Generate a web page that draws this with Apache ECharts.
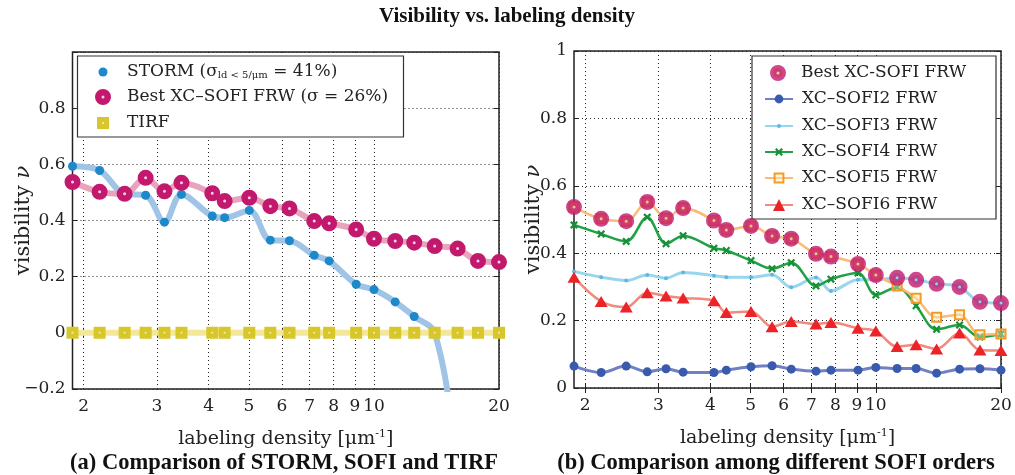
<!DOCTYPE html>
<html><head><meta charset="utf-8">
<script src="https://cdn.jsdelivr.net/npm/echarts@6/dist/echarts.min.js"></script>
<style>html,body{margin:0;padding:0;background:#fff}#c{width:1015px;height:475px}</style>
</head><body><div id="c"></div>
<script>
// ---- data ----
const density = [1.88, 2.185, 2.51, 2.82, 3.13, 3.44, 4.08, 4.37, 5.01, 5.63, 6.26, 7.18, 7.8, 9.06, 10.0, 11.25, 12.5, 14.0, 15.9, 17.8, 20.0];
const storm = [0.593, 0.578, 0.495, 0.490, 0.394, 0.493, 0.416, 0.410, 0.436, 0.330, 0.328, 0.276, 0.256, 0.173, 0.154, 0.110, 0.058, 0.0, -0.45, -0.9, -1.4];
const bestSofi = [0.537, 0.502, 0.495, 0.552, 0.504, 0.534, 0.497, 0.469, 0.481, 0.451, 0.443, 0.398, 0.390, 0.368, 0.335, 0.327, 0.321, 0.309, 0.300, 0.256, 0.252];
const tirf = [0, 0, 0, 0, 0, 0, 0, 0, 0, 0, 0, 0, 0, 0, 0, 0, 0, 0, 0, 0, 0];
const sofi2 = [0.065, 0.046, 0.065, 0.048, 0.057, 0.047, 0.046, 0.053, 0.063, 0.066, 0.056, 0.050, 0.053, 0.053, 0.061, 0.058, 0.058, 0.044, 0.056, 0.057, 0.053];
const sofi3 = [0.346, 0.329, 0.319, 0.335, 0.326, 0.343, 0.333, 0.329, 0.329, 0.336, 0.299, 0.328, 0.288, 0.321, 0.321, 0.327, 0.321, 0.309, 0.300, 0.256, 0.252];
const sofi4 = [0.484, 0.457, 0.435, 0.507, 0.428, 0.452, 0.415, 0.408, 0.378, 0.354, 0.372, 0.303, 0.323, 0.341, 0.276, 0.299, 0.244, 0.174, 0.187, 0.151, 0.160];
const sofi5 = [0.537, 0.502, 0.495, 0.552, 0.504, 0.534, 0.497, 0.469, 0.481, 0.451, 0.443, 0.398, 0.390, 0.368, 0.335, 0.303, 0.266, 0.210, 0.217, 0.158, 0.160];
const sofi6 = [0.329, 0.257, 0.240, 0.283, 0.273, 0.267, 0.259, 0.224, 0.227, 0.182, 0.197, 0.190, 0.194, 0.177, 0.169, 0.123, 0.128, 0.116, 0.163, 0.113, 0.111];
const xTickLabels = [2, 3, 4, 5, 6, 7, 8, 9, 10, 20];
const xRange = [1.88, 20];

// ---- build ----
const FF = 'DejaVu Serif';
const FB = 'Liberation Serif';
const TXT = '#222';
const lg = Math.log10;
const pts = arr => density.map((d, i) => [lg(d), arr[i]]);
const xTicks = xTickLabels.map(lg);

function xAxis(grid, pos, label) {
  return {
    type: 'value', gridIndex: grid, position: pos,
    min: lg(xRange[0]), max: lg(xRange[1]),
    axisLine: { show: false },
    axisTick: { show: true, inside: true, length: 5, customValues: xTicks, lineStyle: { color: '#222', width: 1 } },
    axisLabel: label ? {
      show: true, customValues: xTicks, margin: 9, hideOverlap: false,
      formatter: v => String(Math.round(Math.pow(10, v))),
      fontFamily: FF, fontSize: 17, color: TXT
    } : { show: false },
    splitLine: { show: label, lineStyle: { color: '#222', type: [1, 3], width: 1 } },
    name: label ? '{a|labeling density [μm}{p|-1}{a|]}' : '',
    nameLocation: 'middle', nameGap: 40, nameMoveOverlap: false,
    nameTextStyle: { rich: { a: { fontFamily: FF, fontSize: 19, color: TXT }, p: { fontFamily: FF, fontSize: 11, color: TXT, padding: [0, 0, 9, 0] } } }
  };
}
function yAxis(grid, pos, label, min, hideTop, gap) {
  return {
    type: 'value', gridIndex: grid, position: pos, min: min, max: 1, interval: 0.2,
    axisLine: { show: false },
    axisTick: { show: true, inside: true, length: 5, lineStyle: { color: '#222', width: 1 } },
    axisLabel: label ? {
      show: true, margin: 7, fontFamily: FF, fontSize: 17, color: TXT, hideOverlap: false,
      formatter: v => {
        const r = Math.round(v * 10) / 10;
        if (r === 0) return '0';
        if (r === 1) return hideTop ? '' : '1';
        return (r < 0 ? '−' : '') + Math.abs(r).toFixed(1);
      }
    } : { show: false },
    splitLine: { show: label, lineStyle: { color: '#222', type: [1, 3], width: 1 } },
    name: label ? '{a|visibility }{i|ν}' : '',
    nameLocation: 'middle', nameGap: gap || 0, nameMoveOverlap: false,
    nameTextStyle: { rich: { a: { fontFamily: FF, fontSize: 21, color: TXT }, i: { fontFamily: FF, fontSize: 21, fontStyle: 'italic', color: TXT } } }
  };
}

const bestHoleRight = density.map((d, i) => i < 15 ? '#f7bd72' : '#9fd8ee');

const series = [
  { name: 'STORM', type: 'line', xAxisIndex: 0, yAxisIndex: 0, data: pts(storm), smooth: 0.35,
    symbol: 'circle', symbolSize: 9, showAllSymbol: true, z: 2,
    lineStyle: { color: '#a0c4e6', width: 6 }, itemStyle: { color: '#1d88ca' } },
  { name: 'Best XC–SOFI FRW (σ = 26%)', type: 'line', xAxisIndex: 0, yAxisIndex: 0, data: pts(bestSofi), smooth: 0.35,
    symbol: 'circle', symbolSize: 9.5, showAllSymbol: true, z: 3,
    lineStyle: { color: '#e8a4bd', width: 6 }, itemStyle: { color: '#f4d3df', borderColor: '#c2196e', borderWidth: 6.5 } },
  { name: 'TIRF', type: 'line', xAxisIndex: 0, yAxisIndex: 0, data: pts(tirf), smooth: 0.35,
    symbol: 'rect', symbolSize: 7, showAllSymbol: true, z: 4,
    lineStyle: { color: '#f2e79a', width: 6 }, itemStyle: { color: '#f2e79a', borderColor: '#d7c72a', borderWidth: 5 } },

  { name: 'XC–SOFI2 FRW', type: 'line', xAxisIndex: 2, yAxisIndex: 2, data: pts(sofi2), smooth: 0.35,
    symbol: 'circle', symbolSize: 9, showAllSymbol: true,
    lineStyle: { color: '#7080c2', width: 3 }, itemStyle: { color: '#3a5bad' } },
  { name: 'XC–SOFI3 FRW', type: 'line', xAxisIndex: 2, yAxisIndex: 2, data: pts(sofi3), smooth: 0.35,
    symbol: 'circle', symbolSize: 4, showAllSymbol: true,
    lineStyle: { color: '#98d5ee', width: 3 }, itemStyle: { color: '#5db9e2' } },
  { name: 'XC–SOFI4 FRW', type: 'line', xAxisIndex: 2, yAxisIndex: 2, data: pts(sofi4), smooth: 0.35,
    symbol: 'path://M2,0 L5,3 L8,0 L10,2 L7,5 L10,8 L8,10 L5,7 L2,10 L0,8 L3,5 L0,2 Z', symbolSize: 8, showAllSymbol: true,
    lineStyle: { color: '#22a044', width: 2.5 }, itemStyle: { color: '#168f36' } },
  { name: 'XC–SOFI5 FRW', type: 'line', xAxisIndex: 2, yAxisIndex: 2, data: pts(sofi5), smooth: 0.35,
    symbol: 'rect', symbolSize: 9, showAllSymbol: true,
    lineStyle: { color: '#f8bb78', width: 2.5 }, itemStyle: { color: 'rgba(255,236,190,0.45)', borderColor: '#f59a22', borderWidth: 2 } },
  { name: 'XC–SOFI6 FRW', type: 'line', xAxisIndex: 2, yAxisIndex: 2, data: pts(sofi6), smooth: 0.35,
    symbol: 'triangle', symbolSize: [13, 11], showAllSymbol: true,
    lineStyle: { color: '#f08a7c', width: 2.5 }, itemStyle: { color: '#ec2328' } },
  { name: 'Best XC-SOFI FRW', type: 'scatter', xAxisIndex: 2, yAxisIndex: 2, z: 6,
    data: pts(bestSofi).map((p, i) => ({ value: p, itemStyle: { color: bestHoleRight[i] } })),
    symbol: 'circle', symbolSize: 9.5,
    itemStyle: { borderColor: '#c2196e', borderWidth: 6.5 } }
];

const legText = { fontFamily: FF, fontSize: 17, color: TXT, lineHeight: 20 };
const padT = p => Object.assign({}, legText, { padding: [0, 0, 0, p] });
function legend(name, left, cy, w, h, extra) {
  return Object.assign({
    data: [name], left: left, top: cy - 10, padding: 0, itemWidth: w, itemHeight: h,
    selectedMode: false, textStyle: padT(4)
  }, extra || {});
}
// marker-only legend entry: square icon centred at cx, text starting at tx
function mLegend(item, cx, cy, s, tx, extraText) {
  const bw = (item.itemStyle && item.itemStyle.borderWidth) || 0;
  const left = cx - s / 2;
  const pad = tx - (left + s + 5);
  return {
    data: [item], left: left - bw / 2, top: cy - 10, padding: 0, itemWidth: s, itemHeight: s,
    selectedMode: false, textStyle: Object.assign(padT(pad), extraText || {})
  };
}
const stormLeg = mLegend({ name: 'STORM', icon: 'circle', itemStyle: { color: '#1d88ca', borderWidth: 0 } }, 103, 72, 9, 127, {
  rich: {
    a: { fontFamily: FF, fontSize: 17, color: TXT, lineHeight: 20 },
    s: { fontFamily: FF, fontSize: 10, color: TXT, padding: [7, 0, 0, 0] } }
});
stormLeg.formatter = () => '{a|STORM (σ}{s|ld < 5/μm}{a| = 41%)}';
const legends = [
  stormLeg,
  mLegend({ name: 'Best XC–SOFI FRW (σ = 26%)', icon: 'circle', itemStyle: { color: '#f4d3df', borderColor: '#c2196e', borderWidth: 6.5 } }, 103, 97, 9.5, 127),
  mLegend({ name: 'TIRF', icon: 'rect', itemStyle: { color: '#f2e79a', borderColor: '#d7c72a', borderWidth: 5 } }, 103, 123, 7, 127),
  mLegend({ name: 'Best XC-SOFI FRW', icon: 'circle', itemStyle: { color: '#f7bd72', borderColor: '#c2196e', borderWidth: 6.5 } }, 778, 73, 9.5, 801),
  legend('XC–SOFI2 FRW', 764, 99, 28, 11),
  legend('XC–SOFI3 FRW', 764, 126, 28, 5),
  legend('XC–SOFI4 FRW', 764, 152, 28, 10),
  legend('XC–SOFI5 FRW', 764, 178, 28, 11),
  legend('XC–SOFI6 FRW', 764, 205, 28, 15)
];

const chart = echarts.init(document.getElementById('c'), null, { renderer: 'canvas' });
chart.setOption({
  animation: false,
  backgroundColor: '#fff',
  grid: [
    { left: 72.5, top: 52, width: 426.5, height: 337, show: true, borderColor: '#222', borderWidth: 1.5, backgroundColor: 'transparent', outerBoundsMode: 'none' },
    { left: 574, top: 51, width: 427, height: 337, show: true, borderColor: '#222', borderWidth: 1.5, backgroundColor: 'transparent', outerBoundsMode: 'none' }
  ],
  xAxis: [xAxis(0, 'bottom', true), xAxis(0, 'top', false), xAxis(1, 'bottom', true), xAxis(1, 'top', false)],
  yAxis: [yAxis(0, 'left', true, -0.2, true, 38), yAxis(0, 'right', false, -0.2, true), yAxis(1, 'left', true, 0, false, 30), yAxis(1, 'right', false, 0, false)],
  legend: legends,
  series: series,
  graphic: [
    { type: 'rect', z: 3, shape: { x: 77.5, y: 56, width: 326, height: 81 }, style: { fill: '#fff', stroke: '#333', lineWidth: 1.2 } },
    { type: 'rect', z: 3, shape: { x: 752, y: 56, width: 244, height: 163 }, style: { fill: '#fff', stroke: '#333', lineWidth: 1.2 } },
    { type: 'text', z: 5, style: { text: 'Visibility vs. labeling density', x: 507, y: 17, textAlign: 'center', textVerticalAlign: 'middle', fontFamily: FB, fontWeight: 'bold', fontSize: 21, fill: '#111' } },
    { type: 'text', z: 5, style: { text: '(a) Comparison of STORM, SOFI and TIRF', x: 284, y: 463, textAlign: 'center', textVerticalAlign: 'middle', fontFamily: FB, fontWeight: 'bold', fontSize: 22.5, fill: '#111' } },
    { type: 'text', z: 5, style: { text: '(b) Comparison among different SOFI orders', x: 776, y: 463, textAlign: 'center', textVerticalAlign: 'middle', fontFamily: FB, fontWeight: 'bold', fontSize: 22.5, fill: '#111' } }
  ]
});
</script></body></html>
